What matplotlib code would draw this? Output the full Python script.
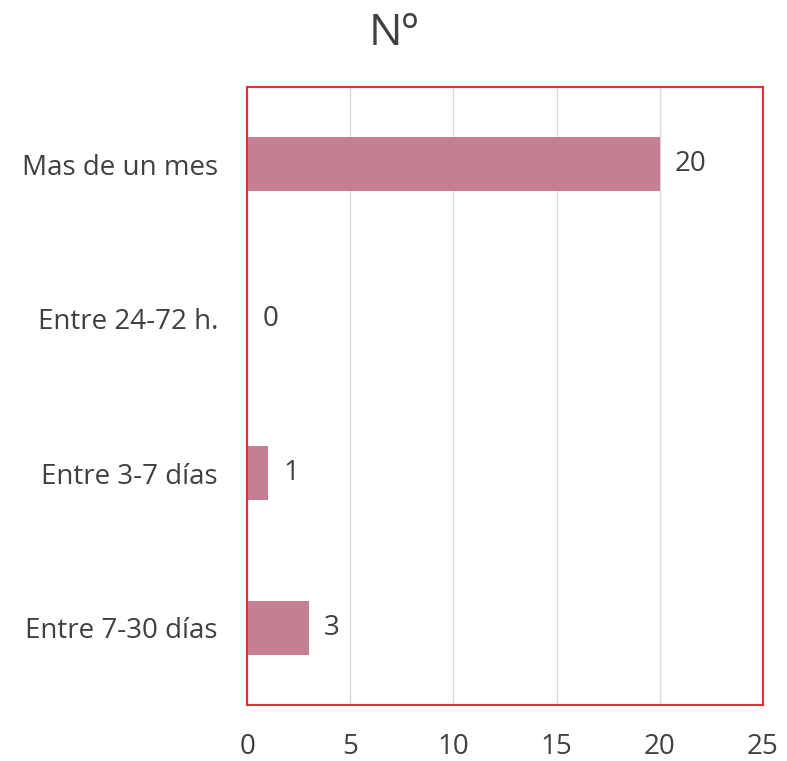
import matplotlib.pyplot as plt

# data (top to bottom as shown)
categories = ["Mas de un mes", "Entre 24-72 h.", "Entre 3-7 días", "Entre 7-30 días"]
values = [20, 0, 1, 3]
xticks = [0, 5, 10, 15, 20, 25]

plt.rcParams['font.family'] = ['Open Sans', 'DejaVu Sans']

fig = plt.figure(figsize=(7.87, 7.61), dpi=100)
ax = fig.add_axes([0.314, 0.0736, 0.6555, 0.8121])

pos = list(range(len(categories)))[::-1]
ax.barh(pos, values, height=0.35, color="#C47F93", zorder=2)

for p, v in zip(pos, values):
    ax.annotate(str(v), (v, p), xytext=(11, 0), textcoords="offset points",
                va="center", ha="left", fontsize=20, color="#404040")

ax.set_xlim(0, 25)
ax.set_ylim(-0.5, len(categories) - 0.5)
ax.set_xticks(xticks)
ax.set_yticks(pos)
ax.set_yticklabels(categories)
ax.tick_params(length=0, labelsize=20, labelcolor="#404040", pad=21)
ax.tick_params(axis="x", pad=20)
ax.xaxis.grid(True, color="#D9D9D9", lw=1, zorder=0)
ax.set_axisbelow(True)

for s in ax.spines.values():
    s.set_color("#E0303A")
    s.set_linewidth(1.5)

fig.suptitle("Nº", y=0.985, fontsize=32, color="#404040")

fig.savefig("out.png", dpi=100)
plt.close()
